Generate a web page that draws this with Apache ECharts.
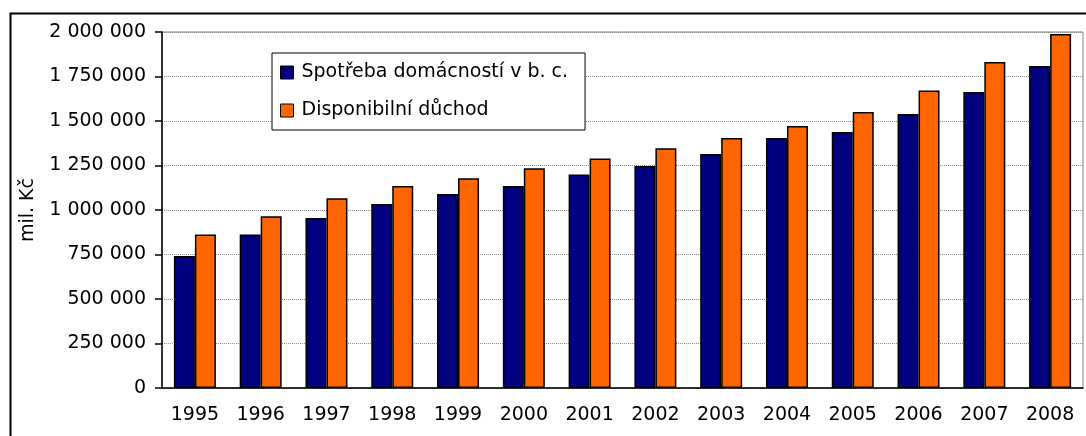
<!DOCTYPE html>
<html><head><meta charset="utf-8">
<script src="https://cdn.jsdelivr.net/npm/echarts@6/dist/echarts.min.js"></script>
<style>html,body{margin:0;padding:0;background:#fff}#c{width:1086px;height:436px}</style>
</head><body><div id="c"></div>
<script>
const categories = ['1995','1996','1997','1998','1999','2000','2001','2002','2003','2004','2005','2006','2007','2008'];
const spotreba = [742000, 863000, 955000, 1034000, 1090000, 1135000, 1200000, 1247000, 1315000, 1404000, 1438000, 1539000, 1663000, 1809000];
const duchod = [863000, 965000, 1066000, 1135000, 1178000, 1234000, 1290000, 1347000, 1404000, 1472000, 1551000, 1672000, 1831000, 1989000];
const seriesNames = ['Spotřeba domácností v b. c.', 'Disponibilní důchod'];
const yAxisName = 'mil. Kč';

const FONT = 'DejaVu Sans';
const FS = 19;
const chart = echarts.init(document.getElementById('c'), null, {renderer: 'canvas'});
function fmt(v){ return String(v).replace(/\B(?=(\d{3})+(?!\d))/g, ' '); }
chart.setOption({
  animation: false,
  backgroundColor: '#fff',
  textStyle: {fontFamily: FONT, color: '#000'},
  graphic: [{
    type: 'rect', left: 8, top: 11, z: 100, silent: true,
    shape: {width: 1200, height: 600},
    style: {fill: 'none', stroke: '#000', lineWidth: 2}
  }],
  grid: {left: 162, right: 3, top: 32, bottom: 48, show: true, borderColor: '#808080', borderWidth: 1, backgroundColor: 'transparent'},
  legend: {
    orient: 'vertical', left: 272, top: 53,
    backgroundColor: '#fff', borderColor: '#000', borderWidth: 1,
    padding: [10, 17, 10, 8], itemGap: 19, itemWidth: 13, itemHeight: 13,
    icon: 'rect',
    itemStyle: {borderColor: '#000', borderWidth: 1},
    textStyle: {fontFamily: FONT, fontSize: FS, color: '#000', lineHeight: 19, padding: [0,0,0,3]},
    data: seriesNames
  },
  xAxis: {
    type: 'category', data: categories,
    axisLine: {lineStyle: {color: '#000', width: 1.5}},
    axisTick: {length: 7, lineStyle: {color: '#000', width: 1.5}},
    axisLabel: {fontFamily: FONT, fontSize: FS, color: '#000', margin: 18}
  },
  yAxis: {
    type: 'value', min: 0, max: 2000000, interval: 250000,
    name: yAxisName, nameLocation: 'middle', nameRotate: 90, nameGap: 124,
    nameTextStyle: {fontFamily: FONT, fontSize: FS, color: '#000'},
    axisLine: {show: true, lineStyle: {color: '#000', width: 1.5}},
    axisTick: {show: true, length: 7, lineStyle: {color: '#000', width: 1.5}},
    axisLabel: {fontFamily: FONT, fontSize: FS, color: '#000', margin: 16, formatter: fmt},
    splitLine: {lineStyle: {color: '#8a8a8a', width: 1, type: [1, 1]}}
  },
  series: [
    {name: seriesNames[0], type: 'bar', data: spotreba, barWidth: 21, barGap: '0%',
     itemStyle: {color: '#000080', borderColor: '#000', borderWidth: 1.5}},
    {name: seriesNames[1], type: 'bar', data: duchod, barWidth: 21, barGap: '0%',
     itemStyle: {color: '#FF6600', borderColor: '#000', borderWidth: 1.5}}
  ]
});
</script></body></html>
